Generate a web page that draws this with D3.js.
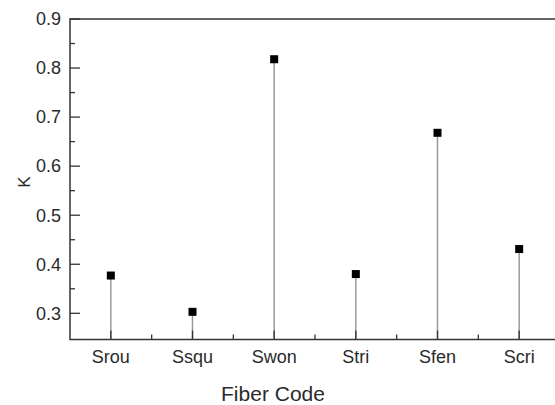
<!DOCTYPE html>
<html>
<head>
<meta charset="utf-8">
<script src="https://cdn.jsdelivr.net/npm/d3@7"></script>
<style>
  body { margin: 0; background: #fff; }
  text { font-family: "Liberation Sans", Arial, sans-serif; fill: #2a2a2a; }
</style>
</head>
<body>
<div id="chart"></div>
<script>
const width = 555;
const height = 405;

// data
const codes = ["Srou", "Ssqu", "Swon", "Stri", "Sfen", "Scri"];
const kValues = [0.377, 0.303, 0.818, 0.380, 0.668, 0.431];
const yTicks = [0.3, 0.4, 0.5, 0.6, 0.7, 0.8, 0.9];
const yMinor = [0.35, 0.45, 0.55, 0.65, 0.75, 0.85];

const svg = d3.select("#chart")
  .append("svg")
  .attr("width", width)
  .attr("height", height);

const plotLeft = 70, plotRight = 560, plotTop = 19, plotBottom = 339.5;

const x = d3.scaleLinear().domain([0.5, 6.5]).range([plotLeft, plotRight]);
const y = d3.scaleLinear().domain([0.2466, 0.9]).range([plotBottom, plotTop]);

const axisColor = "#333";

// stems
svg.selectAll("line.stem")
  .data(kValues)
  .enter()
  .append("line")
  .attr("class", "stem")
  .attr("x1", (d, i) => x(i + 1))
  .attr("x2", (d, i) => x(i + 1))
  .attr("y1", plotBottom)
  .attr("y2", d => y(d))
  .attr("stroke", "#999")
  .attr("stroke-width", 1.5);

// frame
svg.append("path")
  .attr("d", `M${plotRight},${plotTop}H${plotLeft}V${plotBottom}H${plotRight}`)
  .attr("fill", "none")
  .attr("stroke", axisColor)
  .attr("stroke-width", 1.5);

// y axis ticks (inward)
svg.selectAll("line.ymaj")
  .data(yTicks)
  .enter()
  .append("line")
  .attr("x1", plotLeft).attr("x2", plotLeft + 10)
  .attr("y1", d => y(d)).attr("y2", d => y(d))
  .attr("stroke", axisColor).attr("stroke-width", 1.3);

svg.selectAll("line.ymin")
  .data(yMinor)
  .enter()
  .append("line")
  .attr("x1", plotLeft).attr("x2", plotLeft + 5)
  .attr("y1", d => y(d)).attr("y2", d => y(d))
  .attr("stroke", axisColor).attr("stroke-width", 1.3);

svg.selectAll("text.ylab")
  .data(yTicks)
  .enter()
  .append("text")
  .attr("x", plotLeft - 9)
  .attr("y", d => y(d))
  .attr("dy", "0.35em")
  .attr("text-anchor", "end")
  .style("font-size", "18px")
  .text(d => d3.format(".1f")(d));

// x axis ticks (inward)
svg.selectAll("line.xmaj")
  .data(codes)
  .enter()
  .append("line")
  .attr("x1", (d, i) => x(i + 1)).attr("x2", (d, i) => x(i + 1))
  .attr("y1", plotBottom).attr("y2", plotBottom - 9)
  .attr("stroke", axisColor).attr("stroke-width", 1.3);

svg.selectAll("line.xmin")
  .data(codes)
  .enter()
  .append("line")
  .attr("x1", (d, i) => x(i + 1.5)).attr("x2", (d, i) => x(i + 1.5))
  .attr("y1", plotBottom).attr("y2", plotBottom - 5)
  .attr("stroke", axisColor).attr("stroke-width", 1.3);

svg.selectAll("text.xlab")
  .data(codes)
  .enter()
  .append("text")
  .attr("x", (d, i) => x(i + 1))
  .attr("y", 363)
  .attr("text-anchor", "middle")
  .style("font-size", "18px")
  .text(d => d);

// markers
svg.selectAll("rect.pt")
  .data(kValues)
  .enter()
  .append("rect")
  .attr("x", (d, i) => x(i + 1) - 4)
  .attr("y", d => y(d) - 4)
  .attr("width", 8)
  .attr("height", 8)
  .attr("fill", "#000");

// axis titles
svg.append("text")
  .attr("x", 273)
  .attr("y", 401)
  .attr("text-anchor", "middle")
  .style("font-size", "21px")
  .text("Fiber Code");

svg.append("text")
  .attr("transform", "translate(30,182) rotate(-90)")
  .attr("text-anchor", "middle")
  .style("font-size", "17px")
  .text("K");
</script>
</body>
</html>
